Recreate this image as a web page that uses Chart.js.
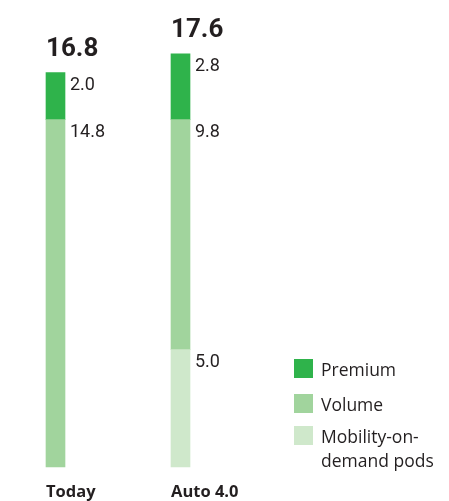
<!DOCTYPE html>
<html>
<head>
<meta charset="utf-8">
<script src="https://cdn.jsdelivr.net/npm/chart.js@4"></script>
<style>
  html, body { margin: 0; padding: 0; background: #fff; }
  #wrap { width: 449px; height: 501px; }
</style>
</head>
<body>
<div id="wrap"><canvas id="chart" width="449" height="501"></canvas></div>
<script>
// values
const categories = ["Today", "Auto 4.0"];
const premium = [2.0, 2.8];
const volume = [14.8, 9.8];
const mobility = [null, 5.0];
const totals = [16.8, 17.6];
const legendNames = [["Premium"], ["Volume"], ["Mobility-on-", "demand pods"]];

const colors = {
  premium: "#2fb34b",
  volume: "#a1d49d",
  mobility: "#cfe8cb",
};

const TEXT = "#231f20";

const labelPlugin = {
  id: "labels",
  afterDatasetsDraw(chart) {
    const ctx = chart.ctx;
    ctx.save();
    ctx.fillStyle = TEXT;

    // segment values to the right of each block
    ctx.font = "18px Roboto";
    ctx.textAlign = "left";
    ctx.textBaseline = "alphabetic";
    chart.data.datasets.forEach((ds, i) => {
      const meta = chart.getDatasetMeta(i);
      meta.data.forEach((bar, j) => {
        const v = ds.data[j];
        if (v == null) return;
        const top = Math.min(bar.y, bar.base);
        ctx.fillText(v.toFixed(1), bar.x + bar.width / 2 + 5, top + 17);
      });
    });

    // totals and category names
    const topMeta = chart.getDatasetMeta(chart.data.datasets.length - 1);
    topMeta.data.forEach((bar, j) => {
      const left = bar.x - bar.width / 2;
      ctx.font = "bold 26px Roboto";
      ctx.fillText(totals[j].toFixed(1), left, bar.y - 17);
      ctx.font = "bold 16.5px 'Open Sans'";
      ctx.fillText(categories[j], left, 496.5);
    });

    // legend (bottom right)
    const order = [chart.data.datasets.length - 1, 1, 0];
    const rows = [359, 394, 426];
    order.forEach((di, k) => {
      const ds = chart.data.datasets[di];
      ctx.fillStyle = ds.backgroundColor;
      ctx.fillRect(294, rows[k], 19, 19);
      ctx.fillStyle = TEXT;
      ctx.font = "17.5px 'Open Sans'";
      legendNames[k].forEach((line, n) => {
        ctx.fillText(line, 321, rows[k] + 17 + n * 23.5);
      });
    });

    ctx.restore();
  },
};

new Chart(document.getElementById("chart"), {
  type: "bar",
  data: {
    labels: categories,
    datasets: [
      { label: "Mobility-on-demand pods", data: mobility, backgroundColor: colors.mobility },
      { label: "Volume", data: volume, backgroundColor: colors.volume },
      { label: "Premium", data: premium, backgroundColor: colors.premium },
    ],
  },
  options: {
    responsive: false,
    animation: false,
    layout: { padding: { top: 21, bottom: 34, left: 55.5, right: 268.5 } },
    datasets: { bar: { barThickness: 19, clip: false, borderWidth: 0 } },
    scales: {
      x: { stacked: true, offset: false, display: false },
      y: { stacked: true, min: 0, max: 19, display: false },
    },
    plugins: {
      legend: { display: false },
      tooltip: { enabled: false },
    },
  },
  plugins: [labelPlugin],
});
</script>
</body>
</html>
